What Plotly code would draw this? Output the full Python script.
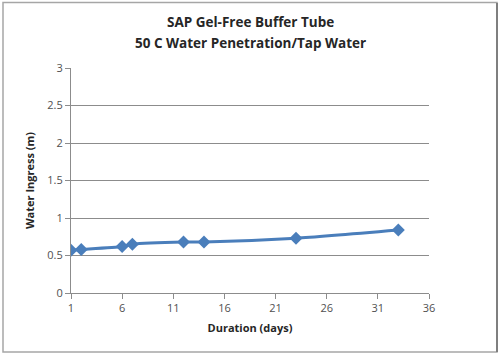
import plotly.graph_objects as go

duration_days = [1, 2, 6, 7, 12, 14, 23, 33]
water_ingress_m = [0.57, 0.58, 0.62, 0.65, 0.68, 0.68, 0.73, 0.84]

title_lines = ["SAP Gel-Free Buffer Tube", "50 C Water Penetration/Tap Water"]
x_title = "Duration (days)"
y_title = "Water Ingress (m)"

blue = "#4A7EBB"
grid = "#8C8C8C"
font_family = "Open Sans, Liberation Sans, Arial, sans-serif"

fig = go.Figure()
fig.add_trace(go.Scatter(
    x=duration_days, y=water_ingress_m,
    mode="lines+markers",
    line=dict(color=blue, width=3, shape="spline", smoothing=0.6),
    marker=dict(symbol="diamond", size=10, color=blue),
    showlegend=False,
))

W, H = 500, 358
l, r, t, b = 71, 71, 68, 65
pw, ph = W - l - r, H - t - b

def px_x(p):
    return (p - l) / pw

def px_y(p):
    return (H - b - p) / ph

annotations = []
for line_text, ypx in zip(title_lines, [22, 43]):
    annotations.append(dict(
        text="<b>" + line_text + "</b>", xref="paper", yref="paper",
        x=px_x(250), y=px_y(ypx), xanchor="center", yanchor="middle",
        showarrow=False, font=dict(size=13.5, color="#262626", family=font_family),
    ))

fig.update_layout(
    width=W, height=H,
    margin=dict(l=l, r=r, t=t, b=b),
    paper_bgcolor="white", plot_bgcolor="white",
    font=dict(family=font_family, size=11, color="#505050"),
    annotations=annotations,
    xaxis=dict(
        range=[1, 36], tick0=1, dtick=5, showgrid=False,
        showline=True, linecolor=grid, linewidth=1,
        ticks="outside", ticklen=5, tickcolor=grid,
        title=dict(text="<b>" + x_title + "</b>", font=dict(size=11, color="#262626"), standoff=10),
        zeroline=False,
    ),
    yaxis=dict(
        range=[0, 3], dtick=0.5, showgrid=True, gridcolor=grid, gridwidth=1,
        showline=True, linecolor=grid, linewidth=1,
        ticks="outside", ticklen=5, tickcolor=grid,
        title=dict(text="<b>" + y_title + "</b>", font=dict(size=11, color="#262626"), standoff=10),
        zeroline=False,
    ),
    shapes=[
        dict(type="rect", xref="paper", yref="paper",
             x0=px_x(3), x1=px_x(497), y0=px_y(352), y1=px_y(2.5),
             line=dict(color="#A6A6A6", width=1.5), layer="below"),
        dict(type="line", xref="paper", yref="paper",
             x0=px_x(497), x1=px_x(497), y0=px_y(352), y1=px_y(3),
             line=dict(color="#7F7F7F", width=2), layer="below"),
    ],
)

fig.write_html(
    "out.html",
    config={"displayModeBar": False},
    post_script="document.body.style.margin='0';document.body.style.overflow='hidden';",
)
